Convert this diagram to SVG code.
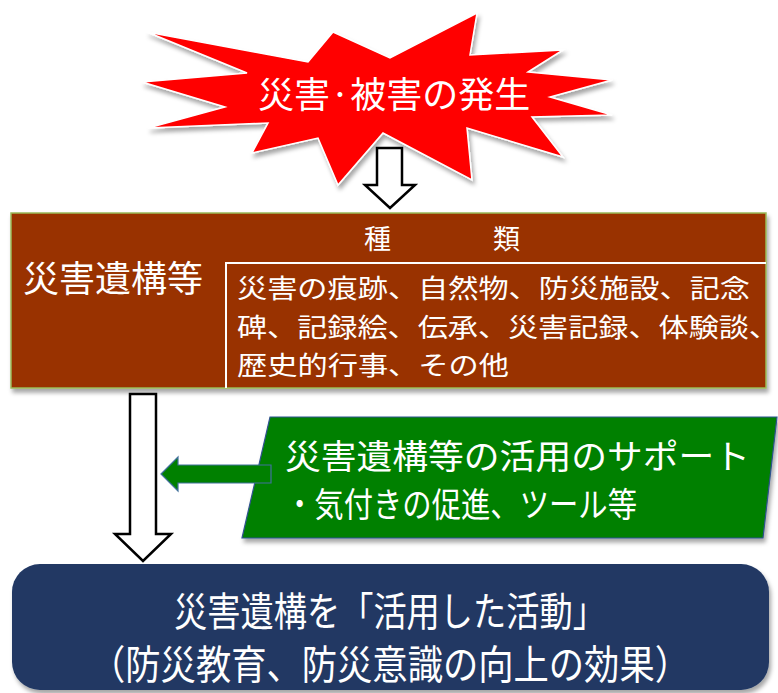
<svg xmlns="http://www.w3.org/2000/svg" width="778" height="693" viewBox="0 0 778 693">
<style>
  text { font-family: "Noto Sans CJK JP", "Noto Sans", sans-serif; fill: #ffffff; }
  .blk { fill: #ffffff; stroke: #000000; stroke-width: 2.5; stroke-linejoin: miter; }
  .cell { fill: none; stroke: #ffffff; stroke-width: 2; }
  .body { font-size: 26px; }
</style>
<defs>
  <filter id="sh" x="-5%" y="-5%" width="115%" height="120%">
    <feDropShadow dx="2" dy="4" stdDeviation="2" flood-color="#000000" flood-opacity="0.35"/>
  </filter>
</defs>
<rect width="778" height="693" fill="#ffffff"/>

<g id="burst">
  <polygon filter="url(#sh)" fill="#ff0000" stroke="#ffffff" stroke-width="1.5"
    points="477,13 470,55 563,50 528,72 612,80 550,97 612,115 532,117 563,157 467,128 472,180 383,133 338,185 318,138 252,153 268,123 148,128 225,107 142,82 247,73 147,32 308,62 333,32 390,58"/>
  <text x="258" y="108" font-size="36">災害·被害の発生</text>
</g>

<g id="remains">
  <rect x="11" y="213" width="755" height="175" fill="#993300" stroke="#9bbb59" stroke-width="1.5" filter="url(#sh)"/>
  <path class="cell" d="M226,388 V263 H766"/>
  <text x="23" y="292" font-size="36">災害遺構等</text>
  <text font-size="27" y="249"><tspan x="364">種</tspan><tspan x="493">類</tspan></text>
  <text class="body" x="237" y="298" textLength="513" lengthAdjust="spacingAndGlyphs">災害の痕跡、自然物、防災施設、記念</text>
  <text class="body" x="237" y="337" textLength="542" lengthAdjust="spacingAndGlyphs">碑、記録絵、伝承、災害記録、体験談、</text>
  <text class="body" x="237" y="375" textLength="272" lengthAdjust="spacingAndGlyphs">歴史的行事、その他</text>
</g>

<g id="support">
  <polygon points="270,417 777,417 763,538 242,538" fill="#008000" stroke="#2f528f" stroke-width="1.2" filter="url(#sh)"/>
  <text x="285" y="469" font-size="34" textLength="465" lengthAdjust="spacingAndGlyphs">災害遺構等の活用のサポート</text>
  <text x="285" y="517" font-size="34" textLength="352" lengthAdjust="spacingAndGlyphs">・気付きの促進、ツール等</text>
</g>

<g id="activity">
  <rect x="12" y="564" width="757" height="126" rx="28" ry="28" fill="#203864" filter="url(#sh)"/>
  <text x="390" y="626" font-size="40" text-anchor="middle" textLength="432" lengthAdjust="spacingAndGlyphs">災害遺構を「活用した活動」</text>
  <text x="390" y="679" font-size="40" text-anchor="middle" textLength="600" lengthAdjust="spacingAndGlyphs">（防災教育、防災意識の向上の効果）</text>
</g>

<g id="connectors">
  <polygon class="blk" points="377,148 402,148 402,185 415,185 390,208 365,185 377,185"/>
  <polygon class="blk" points="130,394 156,394 156,534 171,534 143,561 115,534 130,534"/>
  <polygon points="161,474 178,457 178,465 271,465 271,483 178,483 178,491" fill="#008000" stroke="#41719c" stroke-width="1.2"/>
</g>
</svg>
